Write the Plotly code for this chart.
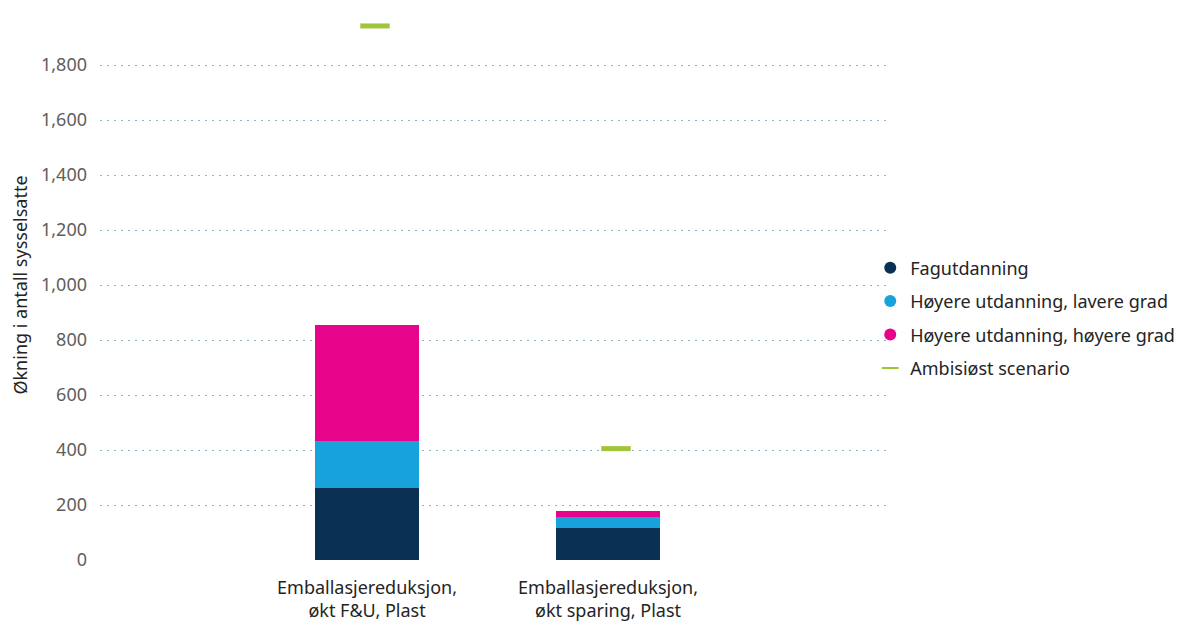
import plotly.graph_objs as go

# data
categories = ['Emballasjereduksjon,<br>økt F&U, Plast', 'Emballasjereduksjon,<br>økt sparing, Plast']
fagutdanning = [263, 116]
hoyere_lavere = [170, 42]
hoyere_hoyere = [422, 19]
ambisiost = [1942, 405]
y_ticks = [0, 200, 400, 600, 800, 1000, 1200, 1400, 1600, 1800]

series = [
    ('Fagutdanning', fagutdanning, '#0a3153'),
    ('Høyere utdanning, lavere grad', hoyere_lavere, '#18a2dc'),
    ('Høyere utdanning, høyere grad', hoyere_hoyere, '#e6048a'),
]
green = '#a2c43a'
font_family = 'Noto Sans, Open Sans, sans-serif'
fs = 18

xs = list(range(len(categories)))
fig = go.Figure()

for i, (name, vals, color) in enumerate(series):
    fig.add_trace(go.Bar(
        x=xs, y=vals, name=name, width=0.432,
        marker=dict(color=color, line=dict(width=0)),
        showlegend=False,
    ))
    # legend entry with round marker
    fig.add_trace(go.Scatter(
        x=[None], y=[None], mode='markers', name=name,
        legendgroup=name,
        marker=dict(color=color, size=12, symbol='circle'),
    ))

# ambisiøst scenario - small offset to the right like in the original
offset = 0.033
fig.add_trace(go.Scatter(
    x=[x + offset for x in xs], y=ambisiost, mode='markers',
    name='Ambisiøst scenario', legendgroup='amb',
    marker=dict(symbol='line-ew', size=21, line=dict(color=green, width=5)),
))

# page body has an 8px margin, margins below compensate for it
fig.update_layout(
    width=1193, height=624,
    barmode='stack',
    plot_bgcolor='white', paper_bgcolor='white',
    font=dict(family=font_family, size=fs, color='#252423'),
    margin=dict(l=92, r=311, t=2, b=72),
    xaxis=dict(
        range=[-1.108, 2.17],
        tickvals=xs, ticktext=categories,
        showgrid=False, zeroline=False, showline=False,
        tickfont=dict(size=fs, color='#252423'),
        ticklabelstandoff=15,
        automargin=False,
    ),
    yaxis=dict(
        range=[0, 2000],
        tickvals=y_ticks, tickformat=',',
        showgrid=True, gridcolor='#8fb3c6', griddash='2px,5px', gridwidth=1,
        zeroline=False, showline=False,
        tickfont=dict(size=fs, color='#605e5c'),
        ticklabelstandoff=12,
        automargin=False,
        title=dict(text='Økning i antall sysselsatte', font=dict(size=fs, color='#252423'), standoff=12),
    ),
    legend=dict(
        x=0.975, xanchor='left', y=0.44, yanchor='middle',
        traceorder='grouped', tracegroupgap=7,
        font=dict(size=fs, color='#252423'),
        itemsizing='constant', bgcolor='rgba(0,0,0,0)',
    ),
    hovermode=False,
)

fig.write_html('out.html')
